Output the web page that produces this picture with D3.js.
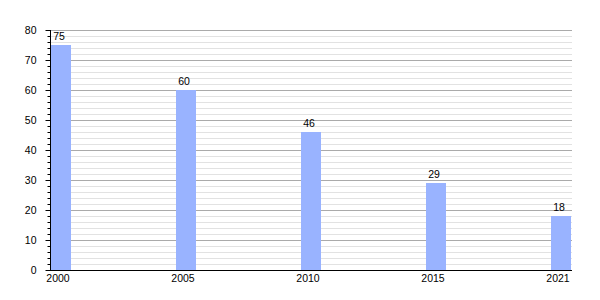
<!DOCTYPE html>
<html><head><meta charset="utf-8">
<script src="https://cdn.jsdelivr.net/npm/d3@7"></script>
<style>body{margin:0;background:#fff}svg{display:block}text{font-family:"Liberation Sans",Arial,sans-serif;font-size:10.5px;fill:#000}</style>
</head><body><svg id="c" width="600" height="300"></svg>
<script>
const years = ["2000","2005","2010","2015","2021"];
const values = [75,60,46,29,18];
const yTicks = [0,10,20,30,40,50,60,70,80];

const svg = d3.select("#c");
const mLeft=50, mRight=572, mTop=30, mBottom=270;
const x = d3.scaleBand().domain(years).range([mLeft, mLeft+125*years.length]).paddingInner(0).paddingOuter(0);
const y = d3.scaleLinear().domain([0,80]).range([mBottom, mTop]);
const barW = 20;

// minor grid
const minor = d3.range(0,81,2).filter(v=>v%10!==0);
svg.append("g").selectAll("line").data(minor).join("line")
  .attr("x1",mLeft).attr("x2",mRight).attr("y1",d=>y(d)+0.5).attr("y2",d=>y(d)+0.5)
  .attr("stroke","#e2e2e2").attr("stroke-width",1);
svg.append("g").selectAll("line").data(yTicks.filter(v=>v>0)).join("line")
  .attr("x1",mLeft).attr("x2",mRight).attr("y1",d=>y(d)+0.5).attr("y2",d=>y(d)+0.5)
  .attr("stroke","#aaaaaa").attr("stroke-width",1);

// bars
svg.append("g").selectAll("rect").data(values).join("rect")
  .attr("x",(d,i)=>x(years[i])+1).attr("width",barW)
  .attr("y",d=>y(d)).attr("height",d=>mBottom-y(d))
  .attr("fill","#99b3ff");

// value labels
svg.append("g").selectAll("text").data(values).join("text")
  .attr("x",(d,i)=>x(years[i])+9).attr("y",d=>y(d)-5)
  .attr("text-anchor","middle").text(d=>d);

// y axis
const yAxis = d3.axisLeft(y).tickValues(yTicks).tickSize(5).tickPadding(9).tickFormat(d3.format("d"));
const ya = svg.append("g").attr("transform",`translate(${mLeft+0.5},0)`).call(yAxis);
ya.select(".domain").remove();
ya.selectAll("text").style("font-size","10.5px").style("font-family","Liberation Sans, Arial, sans-serif");
ya.selectAll("line").attr("stroke","#000");
const yMinor = d3.axisLeft(y).tickValues(minor).tickSize(3).tickFormat("");
const ym = svg.append("g").attr("transform",`translate(${mLeft+0.5},0)`).call(yMinor);
ym.select(".domain").remove();
svg.append("line").attr("x1",mLeft+0.5).attr("x2",mLeft+0.5).attr("y1",mTop).attr("y2",mBottom+1).attr("stroke","#000");

// x axis
svg.append("line").attr("x1",mLeft).attr("x2",mRight).attr("y1",mBottom+0.5).attr("y2",mBottom+0.5).attr("stroke","#000");
svg.append("g").selectAll("text").data(years).join("text")
  .attr("x",d=>x(d)+8).attr("y",mBottom+12)
  .attr("text-anchor","middle").text(d=>d);
</script></body></html>
